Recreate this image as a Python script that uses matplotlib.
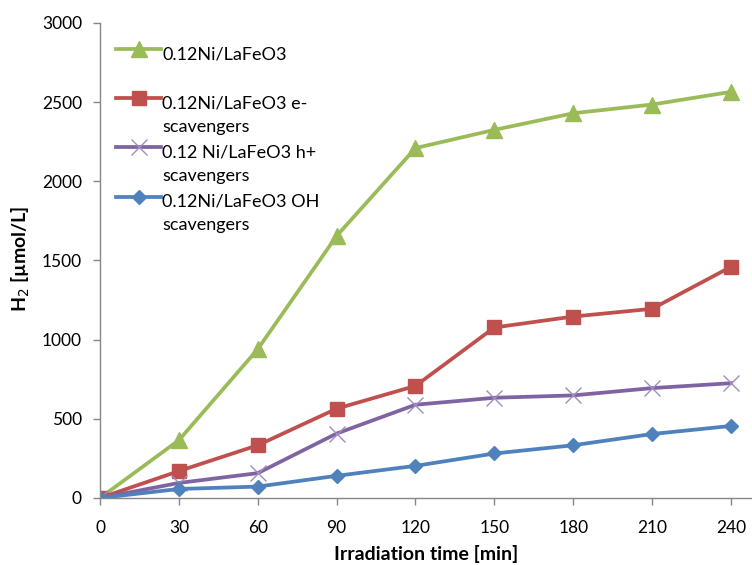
import numpy as np
import matplotlib.pyplot as plt
from matplotlib.legend_handler import HandlerLine2D

# irradiation time [min]
time_min = [0, 30, 60, 90, 120, 150, 180, 210, 240]

# H2 evolution [umol/L]
h2_plain = [0, 365, 940, 1655, 2210, 2325, 2430, 2485, 2565]
h2_e_scav = [0, 170, 333, 564, 708, 1077, 1146, 1195, 1460]
h2_h_scav = [0, 95, 157, 407, 589, 633, 648, 694, 725]
h2_oh_scav = [0, 57, 72, 140, 203, 281, 333, 404, 455]

labels = [
    "0.12Ni/LaFeO3\n ",
    "0.12Ni/LaFeO3 e-\nscavengers",
    "0.12 Ni/LaFeO3 h+\nscavengers",
    "0.12Ni/LaFeO3 OH\nscavengers",
]

plt.rcParams["font.family"] = ["Lato", "DejaVu Sans"]

LINESPACING = 1.55


class FirstLineHandler(HandlerLine2D):
    """Put the legend marker next to the first line of a two-line label."""

    def create_artists(self, legend, orig_handle, xdescent, ydescent,
                       width, height, fontsize, trans):
        artists = super().create_artists(legend, orig_handle, xdescent, ydescent,
                                         width, height, fontsize, trans)
        for a in artists:
            a.set_ydata(np.asarray(a.get_ydata()) + 0.6 * LINESPACING * fontsize)
        return artists


fig = plt.figure(figsize=(7.52, 5.65), dpi=100)
ax = fig.add_axes([0.133, 0.1186, 0.867, 0.8407])

ax.plot(time_min, h2_plain, color="#9BBB59", lw=2.7, marker="^", ms=11,
        label=labels[0])
ax.plot(time_min, h2_e_scav, color="#C0504D", lw=2.7, marker="s", ms=9.5,
        label=labels[1])
ax.plot(time_min, h2_h_scav, color="#8064A2", lw=2.7, marker="x", ms=11,
        mew=1.0, mec="#A08CC0", label=labels[2])
ax.plot(time_min, h2_oh_scav, color="#4F81BD", lw=2.7, marker="D", ms=7.5,
        label=labels[3])

ax.set_xlim(0, 248)
ax.set_ylim(0, 3000)
ax.set_xticks(time_min)
ax.set_yticks(np.arange(0, 3001, 500))

for side in ["top", "right"]:
    ax.spines[side].set_visible(False)
for side in ["left", "bottom"]:
    ax.spines[side].set_color("#868686")
    ax.spines[side].set_linewidth(1.0)

ax.tick_params(axis="both", colors="#868686", labelcolor="black",
               labelsize=12.5, direction="out", length=5, width=1)
ax.tick_params(axis="x", pad=11)
ax.tick_params(axis="y", pad=8)

ax.set_xlabel("Irradiation time [min]", fontsize=14, fontweight="bold")
ax.set_ylabel("H$_2$ [µmol/L]", fontsize=14, fontweight="bold")
ax.xaxis.set_label_coords(0.5, -0.098)
ax.yaxis.set_label_coords(-0.104, 0.503)

leg = ax.legend(loc="upper left", bbox_to_anchor=(0.0, 0.985), frameon=False,
                fontsize=13, handlelength=2.5, handletextpad=0.05,
                labelspacing=0.55, borderaxespad=0.5, borderpad=0.4,
                handler_map={plt.Line2D: FirstLineHandler()})
for t in leg.get_texts():
    t.set_linespacing(LINESPACING)

fig.savefig("out.png", dpi=100)
